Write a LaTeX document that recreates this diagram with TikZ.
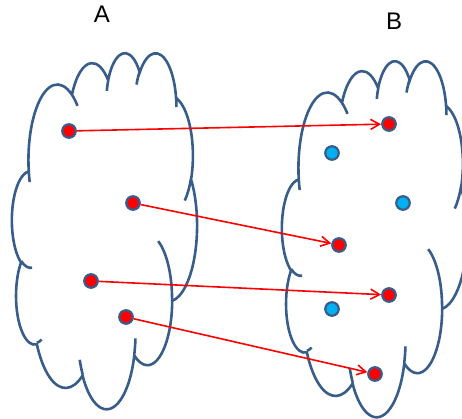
\documentclass[tikz,border=0pt]{standalone}
\usepackage{fontspec}
\setmainfont{Liberation Sans}
\usetikzlibrary{arrows.meta}
\definecolor{cloudc}{RGB}{56,93,138}
\definecolor{dotblue}{RGB}{0,176,240}
\newcommand\carc[4]{arc[x radius=#1, y radius=#2, start angle={atan2(#1*sin(#3),#2*cos(#3))}, delta angle={mod(atan2(#1*sin(#3+#4),#2*cos(#3+#4))-atan2(#1*sin(#3),#2*cos(#3))+720,360)}]}
\newcommand\cloudpath{%
  (0.090278,0.332639)
  \carc{0.156319}{0.212731}{-190.4875}{123.7805}
  \carc{0.123449}{0.168218}{-144.1024}{89.9452}
  \carc{0.101042}{0.137616}{-145.8079}{99.7230}
  \carc{0.112431}{0.152662}{-130.9861}{117.2417}
  \carc{0.123449}{0.168356}{-78.7089}{109.0269}
  \carc{0.156829}{0.213426}{-46.2673}{130.2690}
  \carc{0.133912}{0.182106}{0.6250}{114.0333}
  \carc{0.156296}{0.213310}{22.4516}{115.1726}
  \carc{0.178704}{0.244051}{66.2426}{75.7110}
  \carc{0.100926}{0.136991}{-274.9421}{146.7356}
  \carc{0.100579}{0.137616}{-246.8285}{152.5189}
  (0.108634,0.605949) \carc{0.100579}{0.137616}{86.742}{26.4295}
  (0.160370,0.807847) \carc{0.100926}{0.136991}{73.6105}{11.4475}
  (0.381435,0.904861) \carc{0.156296}{0.213310}{137.6242}{14.0811}
  (0.667292,0.804421) \carc{0.156296}{0.213310}{6.4533}{15.9984}
  (0.790023,0.531343) \carc{0.133912}{0.182106}{-70.2924}{70.9174}
  (0.967546,0.355417) \carc{0.123449}{0.168356}{30.3180}{27.7515}
  (0.887130,0.125602) \carc{0.112431}{0.152662}{-13.7443}{14.8589}
  (0.673102,0.091481) \carc{0.112431}{0.152662}{-149.1815}{18.1954}
  (0.512523,0.109259) \carc{0.101042}{0.137616}{-163.4943}{17.6864}
  (0.324074,0.120185) \carc{0.156319}{0.212731}{-66.7070}{12.3194}
  (0.095532,0.365486) \carc{0.156319}{0.212731}{158.3408}{20.7697}
}
\tikzset{
  cloudline/.style={draw=cloudc, line width=2.6pt},
  dotred/.style={circle, fill=red, draw=cloudc, line width=2.2pt, inner sep=0pt, minimum size=13.5pt},
  dotcyan/.style={circle, fill=dotblue, draw=cloudc, line width=2.2pt, inner sep=0pt, minimum size=13.5pt},
  maparrow/.style={draw=red, line width=1.6pt, -{Straight Barb[length=9pt,width=10pt]}},
  setlabel/.style={font=\fontsize{24}{28}\selectfont, inner sep=0pt}
}
\begin{document}
\begin{tikzpicture}[x=1pt,y=-1pt]
\useasboundingbox (0,0) rectangle (462,419);
\begin{scope}
\clip (0,0) rectangle (462,419);
\begin{scope}[shift={(12,52)}, x=185pt, y=-356pt]
  \draw[cloudline] \cloudpath;
\end{scope}
\begin{scope}[shift={(282,60)}, x=185pt, y=-356pt]
  \draw[cloudline] \cloudpath;
\end{scope}
\end{scope}
\node[setlabel] (labA) at (102,14) {A};
\node[setlabel] (labB) at (394,21) {B};
\node[dotred] (a1) at (69,131) {};
\node[dotred] (a2) at (133,203) {};
\node[dotred] (a3) at (91,281) {};
\node[dotred] (a4) at (126,317) {};
\node[dotred] (b1) at (389,124) {};
\node[dotred] (b2) at (339,245) {};
\node[dotred] (b3) at (389,295) {};
\node[dotred] (b4) at (375,374) {};
\node[dotcyan] (c1) at (332,153) {};
\node[dotcyan] (c2) at (403,203) {};
\node[dotcyan] (c3) at (332,309) {};
\draw[maparrow] (a1) -- (b1);
\draw[maparrow] (a2) -- (b2);
\draw[maparrow] (a3) -- (b3);
\draw[maparrow] (a4) -- (b4);
\end{tikzpicture}
\end{document}
